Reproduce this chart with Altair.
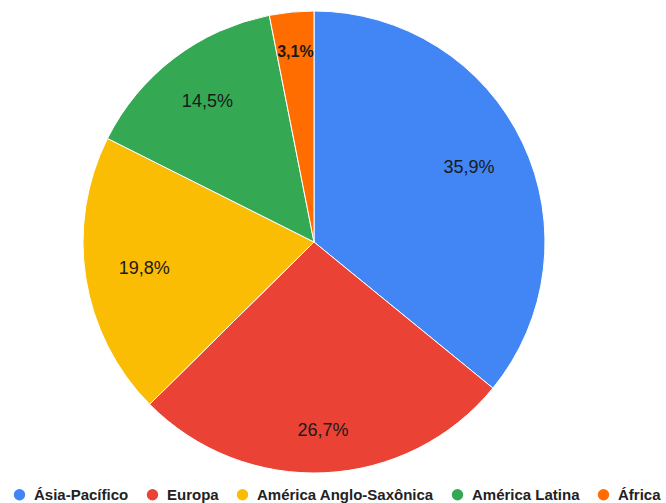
import altair as alt
import pandas as pd

regions = ["Ásia-Pacífico", "Europa", "América Anglo-Saxônica", "América Latina", "África"]
shares = [35.9, 26.7, 19.8, 14.5, 3.1]
labels = ["35,9%", "26,7%", "19,8%", "14,5%", "3,1%"]
colors = ["#4285F4", "#EA4335", "#FBBC04", "#34A853", "#FF6D01"]

df = pd.DataFrame({
    "region": regions,
    "share": shares,
    "label": labels,
    "idx": list(range(len(regions))),
})

CX, CY, R = 314, 242, 231

pie = alt.Chart(df).mark_arc(outerRadius=R, stroke="white", strokeWidth=1).encode(
    theta=alt.Theta("share:Q", stack=True),
    order=alt.Order("idx:O"),
    x=alt.value(CX),
    y=alt.value(CY),
    color=alt.Color(
        "region:N",
        scale=alt.Scale(domain=regions, range=colors),
        sort=regions,
        legend=alt.Legend(
            title=None,
            orient="none",
            direction="horizontal",
            legendX=12,
            legendY=487,
            symbolType="circle",
            symbolSize=130,
            symbolStrokeWidth=0,
            labelFont="Liberation Sans",
            labelFontSize=15,
            labelFontWeight="bold",
            labelColor="#222222",
            labelOffset=7,
            columnPadding=16,
            labelLimit=400,
        ),
    ),
)

# label placement: mid-angle of each slice; outer edge of label box at a fixed distance
txt = (
    alt.Chart(df)
    .transform_window(cum="sum(share)", sort=[alt.SortField("idx")], frame=[None, 0])
    .transform_joinaggregate(total="sum(share)")
    .transform_calculate(
        mid="(datum.cum - datum.share/2) / datum.total * 2 * PI",
        small="datum.share < 5",
    )
    .transform_calculate(
        hw="datum.small ? 18 : 26",
        hh="datum.small ? 6 : 9",
    )
    .transform_calculate(
        r="199 - (datum.hw * abs(sin(datum.mid)) + datum.hh * abs(cos(datum.mid)))",
    )
)

text_big = txt.transform_filter("!datum.small").mark_text(
    font="Liberation Sans", fontSize=18, color="#1a1a1a", baseline="middle", align="center"
).encode(
    x=alt.value(CX),
    y=alt.value(CY),
    theta=alt.Theta("mid:Q", scale=None, stack=None),
    radius=alt.Radius("r:Q", scale=None),
    text="label:N",
)

text_small = txt.transform_filter("datum.small").mark_text(
    font="Liberation Sans", fontSize=16, fontWeight="bold", color="#1a1a1a",
    baseline="middle", align="center"
).encode(
    x=alt.value(CX),
    y=alt.value(CY),
    theta=alt.Theta("mid:Q", scale=None, stack=None),
    radius=alt.Radius("r:Q", scale=None),
    text="label:N",
)

chart = (
    alt.layer(pie, text_big, text_small)
    .properties(width=666, height=503, autosize=alt.AutoSizeParams(type="none"), padding=0)
    .configure_view(stroke=None)
)

chart.save("out.html", embed_options={"renderer": "svg", "actions": False})
